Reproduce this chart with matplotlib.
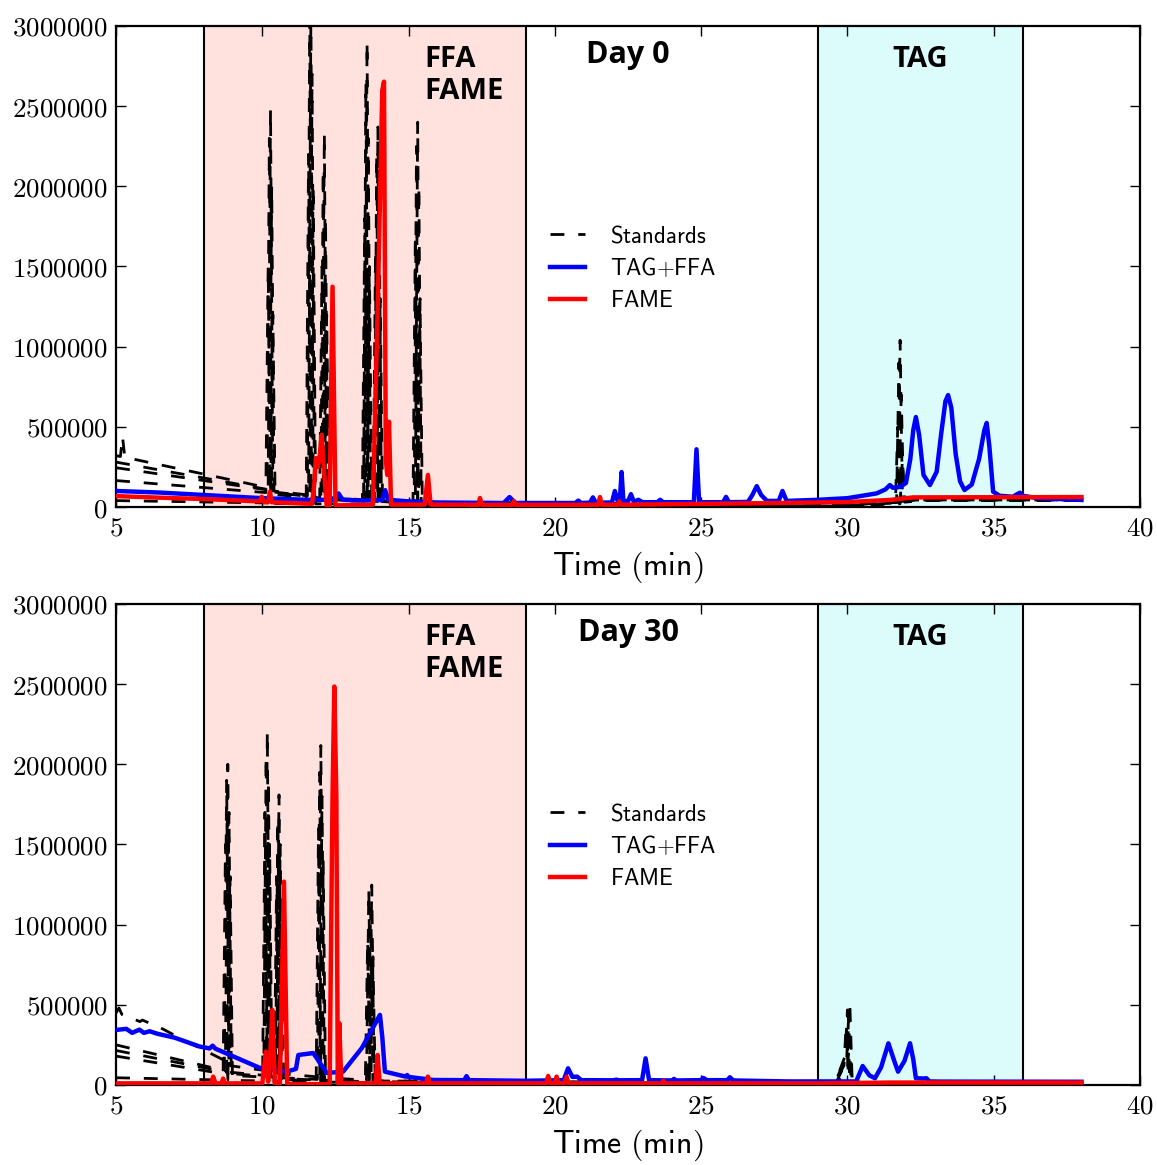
import numpy as np
import matplotlib
matplotlib.use("Agg")
import matplotlib.pyplot as plt
from matplotlib.lines import Line2D

plt.rcParams['mathtext.fontset'] = 'cm'

# ---------------- Day 0 (values in thousands of counts) ----------------
d0_blue_t = [5.0, 6.5, 8.0, 10.0, 11.5, 12.45, 12.6, 12.75, 13.5, 14.1, 14.2, 14.3, 15.0, 16.0,
             18.25, 18.45, 18.65, 20.7, 20.8, 20.9, 21.2, 21.3, 21.4, 21.95, 22.05, 22.15, 22.22,
             22.28, 22.34, 22.5, 22.6, 22.7, 22.85, 23.0, 23.5, 23.6, 23.7, 24.75, 24.84, 24.93,
             25.75, 25.85, 25.95, 26.6, 26.75, 26.9, 27.05, 27.25, 27.65, 27.78, 27.92, 29.0, 30.0,
             31.0, 31.3, 31.45, 31.55, 31.8, 32.0, 32.15, 32.25, 32.34, 32.45, 32.6, 32.82, 33.05,
             33.2, 33.35, 33.44, 33.55, 33.7, 33.85, 34.0, 34.25, 34.5, 34.68, 34.76, 34.85, 34.98,
             35.2, 35.66, 35.8, 35.9, 36.0, 36.5, 38.0]
d0_blue_y = [100, 90, 75, 55, 45, 45, 85, 45, 40, 45, 105, 45, 35, 28,
             25, 62, 25, 25, 40, 25, 27, 60, 27, 28, 100, 35, 40,
             218, 40, 35, 80, 32, 45, 30, 30, 45, 30, 30, 360, 30,
             30, 63, 30, 32, 75, 130, 75, 38, 38, 100, 38, 45, 55,
             85, 110, 137, 120, 125, 150, 300, 480, 561, 450, 200, 137, 220,
             450, 660, 698, 620, 330, 160, 106, 140, 300, 480, 524, 380, 96,
             70, 64, 80, 89, 70, 55, 44]

d0_red_t = [5.0, 7.0, 8.0, 9.9, 9.98, 10.05, 10.2, 10.26, 10.32, 11.0, 11.7, 11.78, 11.83, 11.9,
            11.95, 12.03, 12.12, 12.2, 12.3, 12.4, 12.5, 13.78, 13.95, 14.1, 14.16, 14.22, 14.27,
            14.33, 14.4, 15.55, 15.66, 15.75, 17.38, 17.44, 17.5, 18.55, 18.6, 18.65, 21.48,
            21.54, 21.6, 22.14, 22.2, 22.26, 27.7, 30.0, 31.45, 32.25, 38.0]
d0_red_y = [68, 55, 50, 35, 64, 32, 32, 95, 30, 25, 20, 150, 305, 250,
            300, 450, 200, 5, 10, 1374, 10, 15, 1300, 2600, 2653, 300, 200,
            532, 15, 15, 200, 15, 14, 56, 14, 14, 37, 14, 14,
            62, 14, 14, 35, 14, 25, 31, 44, 60, 62]

d0_std1_t = [5.0, 5.15, 5.22, 5.3, 10.2, 10.28, 10.36, 11.58, 11.66, 11.74, 12.04, 12.12, 12.2,
             13.5, 13.58, 13.66, 13.87, 13.95, 14.03, 15.23, 15.31, 15.39, 29.5, 31.72, 31.8,
             31.88, 32.5, 38.0]
d0_std1_y = [320, 315, 440, 310, 120, 2480, 100, 75, 3100, 70, 65, 2330, 60,
             45, 2900, 45, 40, 2370, 40, 30, 2400, 30, 10, 30, 1040,
             40, 44, 44]
d0_std2_t = [5.0, 10.16, 10.24, 10.32, 11.54, 11.62, 11.7, 12.0, 12.08, 12.16, 13.46, 13.54,
             13.62, 13.83, 13.91, 13.99, 15.19, 15.27, 15.35, 29.5, 31.68, 31.76, 31.84, 32.5, 38.0]
d0_std2_y = [280, 110, 2300, 95, 70, 3050, 65, 60, 2100, 55, 45, 2650, 45,
             40, 2200, 40, 30, 2250, 30, 10, 30, 900, 40, 44, 44]
d0_std3_t = [5.0, 10.24, 10.32, 10.4, 11.62, 11.7, 11.78, 12.08, 12.16, 12.24, 13.54, 13.62,
             13.7, 13.91, 13.99, 14.07, 15.27, 15.35, 15.43, 29.5, 31.76, 31.84, 31.92, 32.5, 38.0]
d0_std3_y = [245, 105, 2000, 90, 65, 2700, 60, 55, 1800, 50, 40, 2300, 40,
             35, 2000, 35, 25, 2000, 25, 10, 30, 700, 40, 44, 44]
d0_std4_t = [5.0, 10.12, 10.2, 10.28, 11.5, 11.58, 11.66, 11.96, 12.04, 12.12, 13.42, 13.5,
             13.58, 13.79, 13.87, 13.95, 15.15, 15.23, 15.31, 29.5, 31.64, 31.72, 31.8, 32.5, 38.0]
d0_std4_y = [165, 90, 1500, 80, 60, 2200, 55, 50, 1500, 45, 40, 1800, 40,
             35, 1600, 35, 25, 1700, 25, 5, 25, 500, 35, 40, 40]
d0_std5_t = [5.0, 10.28, 10.36, 10.44, 11.66, 11.74, 11.82, 12.12, 12.2, 12.28, 13.58, 13.66,
             13.74, 13.95, 14.03, 14.11, 15.31, 15.39, 15.47, 29.5, 31.8, 31.88, 31.96, 32.5, 38.0]
d0_std5_y = [40, 25, 1200, 22, 20, 2000, 20, 20, 1200, 20, 18, 1500, 18,
             16, 1300, 16, 14, 1300, 14, 5, 20, 300, 30, 40, 40]

# ---------------- Day 30 ----------------
d30_blue_t = [5.0, 5.35, 5.55, 5.8, 5.95, 6.15, 6.4, 7.0, 7.87, 8.2, 8.3, 8.4, 9.92, 10.83, 11.15,
              11.23, 11.74, 11.85, 12.2, 12.76, 13.4, 14.02, 14.1, 14.19, 14.9, 14.95, 15.0, 15.85,
              16.9, 16.98, 17.06, 19.0, 20.3, 20.45, 20.6, 20.76, 20.9, 22.0, 22.1, 22.2, 22.98,
              23.1, 23.22, 24.0, 24.07, 24.14, 25.0, 25.07, 25.2, 25.9, 25.98, 26.1, 28.0, 30.3,
              30.52, 30.75, 30.94, 31.15, 31.4, 31.6, 31.73, 31.95, 32.14, 32.25, 32.34, 32.6,
              32.7, 32.8, 33.2, 38.0]
d30_blue_y = [343, 350, 325, 345, 325, 335, 320, 295, 239, 228, 245, 226, 106, 83, 100,
              187, 199, 170, 75, 83, 230, 437, 300, 83, 52, 62, 50, 31,
              30, 55, 30, 26, 30, 104, 50, 52, 30, 29, 33, 29, 30,
              166, 30, 28, 38, 28, 30, 44, 30, 30, 48, 28, 22, 22,
              118, 60, 42, 110, 260, 150, 83, 150, 260, 160, 42, 40,
              42, 22, 21, 20]

d30_red_t = [5.0, 8.25, 8.32, 8.4, 8.6, 8.66, 8.72, 10.0, 10.12, 10.2, 10.26, 10.34, 10.43, 10.5,
             10.6, 10.74, 10.85, 12.3, 12.4, 12.46, 12.53, 12.58, 12.63, 12.7, 13.87, 13.94,
             14.01, 15.6, 15.66, 15.72, 19.7, 19.77, 19.84, 20.0, 20.06, 20.12, 20.33, 20.4,
             20.47, 23.64, 23.7, 23.76, 29.0, 31.5, 38.0]
d30_red_y = [10, 10, 52, 10, 10, 40, 10, 10, 208, 20, 150, 468, 5, 5,
             5, 1268, 5, 5, 1800, 2485, 1800, 10, 386, 10, 10, 187,
             10, 10, 52, 10, 10, 56, 10, 10, 52, 10, 10, 52,
             10, 10, 25, 10, 10, 15, 15]

d30_std1_t = [5.0, 5.1, 5.2, 5.82, 5.9, 6.6, 7.3, 7.87, 8.74, 8.82, 8.9, 10.09, 10.17, 10.25,
              10.49, 10.57, 10.65, 11.92, 12.0, 12.08, 13.66, 13.74, 13.82, 29.57, 30.0, 30.08,
              30.16, 30.5, 38.0]
d30_std1_y = [449, 480, 440, 395, 405, 349, 281, 230, 150, 2000, 120, 90, 2204, 80,
              75, 1809, 70, 50, 2117, 45, 30, 1247, 25, 10, 200, 520,
              30, 15, 15]
d30_std2_t = [5.0, 8.7, 8.78, 8.86, 10.05, 10.13, 10.21, 10.45, 10.53, 10.61, 11.88, 11.96,
              12.04, 13.56, 13.64, 13.72, 29.57, 29.92, 30.0, 30.08, 30.5, 38.0]
d30_std2_y = [250, 90, 1900, 80, 60, 2050, 55, 50, 1650, 45, 35, 1950, 35,
              25, 1220, 25, 10, 180, 468, 25, 15, 15]
d30_std3_t = [5.0, 8.78, 8.86, 8.94, 10.13, 10.21, 10.29, 10.53, 10.61, 10.69, 11.96, 12.04,
              12.12, 13.62, 13.7, 13.78, 29.6, 29.97, 30.04, 30.12, 30.5, 38.0]
d30_std3_y = [215, 80, 1700, 70, 55, 1900, 50, 45, 1500, 40, 30, 1800, 30,
              20, 1100, 20, 10, 150, 420, 25, 15, 15]
d30_std4_t = [5.0, 8.66, 8.74, 8.82, 10.01, 10.09, 10.17, 10.41, 10.49, 10.57, 11.84, 11.92,
              12.0, 13.52, 13.6, 13.68, 29.55, 29.88, 29.96, 30.04, 30.5, 38.0]
d30_std4_y = [180, 70, 1500, 60, 50, 1700, 45, 40, 1300, 35, 25, 1600, 25,
              20, 900, 20, 10, 120, 380, 20, 15, 15]
d30_std5_t = [5.0, 8.82, 8.9, 8.98, 10.17, 10.25, 10.33, 10.57, 10.65, 10.73, 12.0, 12.08,
              12.16, 13.7, 13.78, 13.86, 29.6, 30.0, 30.08, 30.16, 30.5, 38.0]
d30_std5_y = [45, 30, 1300, 28, 25, 1500, 25, 22, 1100, 22, 18, 1400, 18,
              15, 800, 15, 8, 100, 300, 15, 12, 12]

day_labels = ['Day 0', 'Day 30']
ffa_span = (8, 19)
tag_span = (29, 36)
xticks = [5, 10, 15, 20, 25, 30, 35, 40]
yticks = [0, 500000, 1000000, 1500000, 2000000, 2500000, 3000000]

panels = [
    (d0_blue_t, d0_blue_y, d0_red_t, d0_red_y,
     [(d0_std1_t, d0_std1_y), (d0_std2_t, d0_std2_y), (d0_std3_t, d0_std3_y),
      (d0_std4_t, d0_std4_y), (d0_std5_t, d0_std5_y)]),
    (d30_blue_t, d30_blue_y, d30_red_t, d30_red_y,
     [(d30_std1_t, d30_std1_y), (d30_std2_t, d30_std2_y), (d30_std3_t, d30_std3_y),
      (d30_std4_t, d30_std4_y), (d30_std5_t, d30_std5_y)]),
]

fig = plt.figure(figsize=(11.57, 11.65), dpi=100)
boxes = [[0.1003, 0.5648, 0.8850, 0.4129], [0.1003, 0.0687, 0.8850, 0.4129]]

for i, (bt, by, rt, ry, stds) in enumerate(panels):
    ax = fig.add_axes(boxes[i])
    ax.axvspan(ffa_span[0], ffa_span[1], color='#ffe1de', zorder=0, lw=0)
    ax.axvspan(tag_span[0], tag_span[1], color='#dcfcfc', zorder=0, lw=0)
    for xv in [ffa_span[0], ffa_span[1], tag_span[0], tag_span[1]]:
        ax.axvline(xv, color='black', lw=1.5, zorder=1)

    for st, sy in stds:
        ax.plot(st, np.array(sy) * 1000, color='black', lw=2.0, dashes=(5, 5), zorder=2)
    ax.plot(bt, np.array(by) * 1000, color='blue', lw=3.2, zorder=3)
    ax.plot(rt, np.array(ry) * 1000, color='red', lw=3.2, zorder=4)

    ax.set_xlim(5, 40)
    ax.set_ylim(0, 3000000)
    ax.set_xticks(xticks)
    ax.set_xticklabels(['$%d$' % v for v in xticks], fontsize=19.5)
    ax.set_yticks(yticks)
    ax.set_yticklabels(['$%d$' % v for v in yticks], fontsize=19.5)
    ax.tick_params(direction='in', length=7, width=1, top=True, right=True)
    ax.tick_params(axis='x', pad=6)
    ax.tick_params(axis='y', pad=6)
    for sp in ax.spines.values():
        sp.set_linewidth(1.6)
    ax.set_xlabel(r'$\mathsf{Time\ (min)}$', fontsize=23, labelpad=6)

    ax.text(0.3008, 0.9148, 'FFA', transform=ax.transAxes, fontsize=21,
            fontweight='bold', family='Open Sans', ha='left', va='baseline')
    ax.text(0.3008, 0.8482, 'FAME', transform=ax.transAxes, fontsize=21,
            fontweight='bold', family='Open Sans', ha='left', va='baseline')
    ax.text(0.5, 0.923, day_labels[i], transform=ax.transAxes, fontsize=22,
            fontweight='bold', family='Open Sans', ha='center', va='baseline')
    ax.text(0.785, 0.9148, 'TAG', transform=ax.transAxes, fontsize=21,
            fontweight='bold', family='Open Sans', ha='center', va='baseline')

    handles = [Line2D([], [], color='black', lw=2.0, dashes=(5, 5)),
               Line2D([], [], color='blue', lw=3.2),
               Line2D([], [], color='red', lw=3.2)]
    labels = [r'$\mathsf{Standards}$', r'$\mathsf{TAG{+}FFA}$', r'$\mathsf{FAME}$']
    ax.legend(handles, labels, loc='upper left', bbox_to_anchor=(0.424, 0.588),
              frameon=False, fontsize=16.5, handlelength=1.5, handletextpad=1.1,
              labelspacing=0.4, borderpad=0, borderaxespad=0)

fig.savefig('out.png', dpi=100)
